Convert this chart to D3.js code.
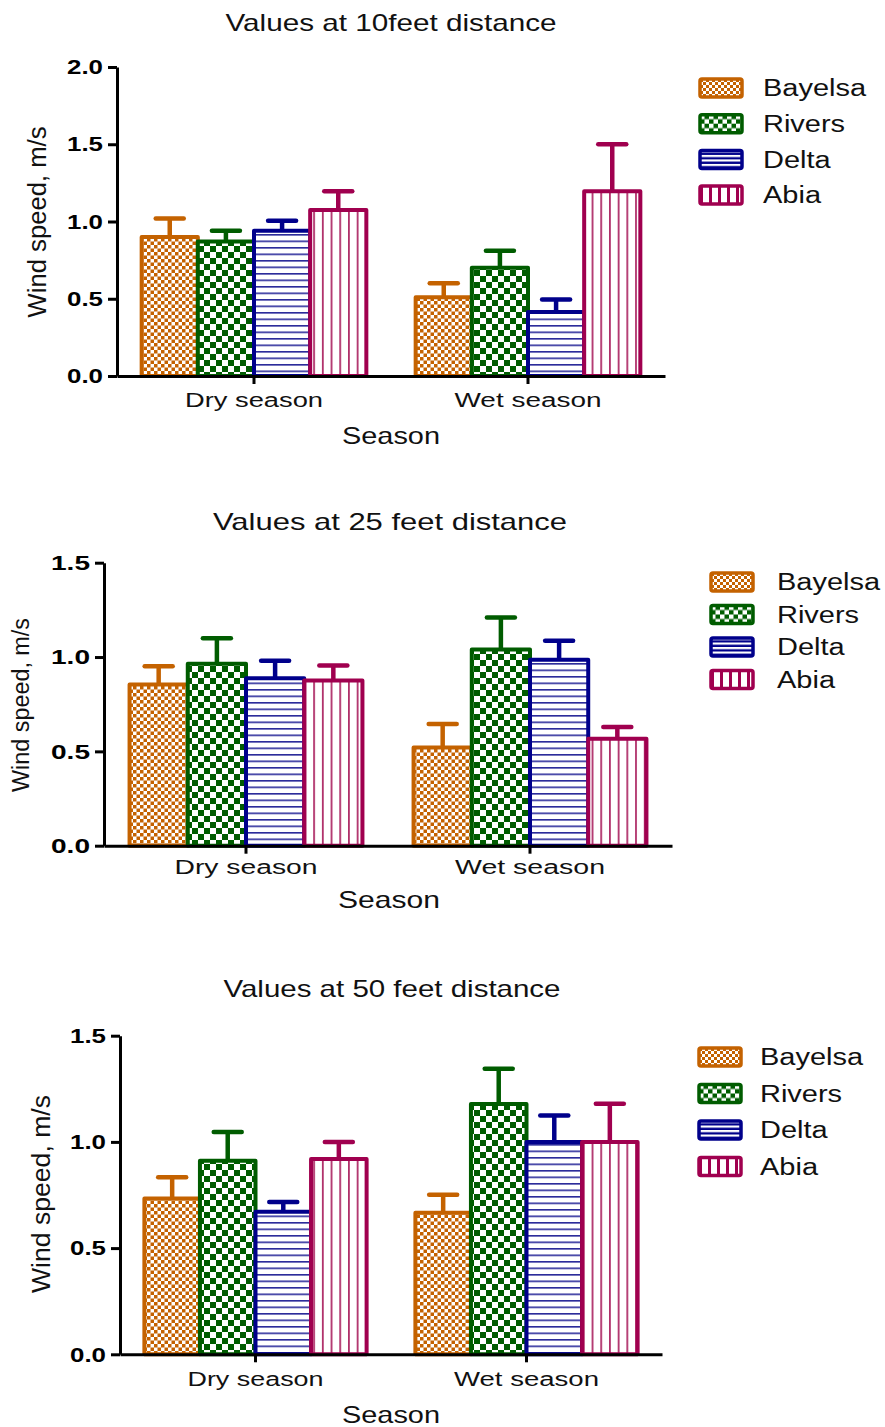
<!DOCTYPE html>
<html><head><meta charset="utf-8">
<script src="https://cdn.jsdelivr.net/npm/d3@7"></script>
<style>
html,body{margin:0;padding:0;background:#fff;}
svg{display:block;font-family:"Liberation Sans",Arial,Helvetica,sans-serif;}
</style></head><body>
<svg id="chart" width="885" height="1427"></svg>
<script>
// ---------------- DATA ----------------
const categories = ["Dry season", "Wet season"];
const seriesNames = ["Bayelsa", "Rivers", "Delta", "Abia"];
const panelTitles = ["Values at 10feet distance", "Values at 25 feet distance", "Values at 50 feet distance"];
const xAxisTitle = "Season";
const yAxisTitle = "Wind speed, m/s";
const ticks10 = [0, 0.5, 1.0, 1.5, 2.0];
const ticks25 = [0, 0.5, 1.0, 1.5];
const ticks50 = [0, 0.5, 1.0, 1.5];
// rows: categories (Dry, Wet); columns: series (Bayelsa, Rivers, Delta, Abia)
const means10 = [[0.90, 0.87, 0.94, 1.075], [0.51, 0.70, 0.415, 1.195]];
const errs10  = [[0.12, 0.07, 0.065, 0.12], [0.09, 0.11, 0.08, 0.305]];
const means25 = [[0.855, 0.965, 0.887, 0.875], [0.52, 1.04, 0.986, 0.567]];
const errs25  = [[0.096, 0.135, 0.093, 0.08], [0.125, 0.17, 0.10, 0.062]];
const means50 = [[0.734, 0.911, 0.671, 0.92], [0.667, 1.178, 1.0, 1.0]];
const errs50  = [[0.10, 0.136, 0.046, 0.08], [0.084, 0.166, 0.124, 0.18]];

// ---------------- STYLE / LAYOUT ----------------
const colors = ["#C46200", "#005C00", "#00008B", "#A0004F"];
const panels = [
  {means: means10, errs: errs10, ticks: ticks10, title: panelTitles[0],
   left: 117, right: 665, top: 67, bottom: 376,
   titleX: 391, titleY: 31, titleW: 331,
   catY: 407, catW: [138, 147], seasonX: 391, seasonY: 444, seasonW: 98,
   yLabX: 46, yLabY: 222, yLabW: 191, yLabFont: 25,
   tickW: 36, legX: 700, legY: 88, legDy: 35.7, legTextX: 763},
  {means: means25, errs: errs25, ticks: ticks25, title: panelTitles[1],
   left: 104, right: 672, top: 562.7, bottom: 845.7,
   titleX: 390, titleY: 530, titleW: 354,
   catY: 874, catW: [143, 150], seasonX: 389, seasonY: 908, seasonW: 102,
   yLabX: 29, yLabY: 705, yLabW: 174, yLabFont: 23.5,
   tickW: 39, legX: 711, legY: 582, legDy: 32.5, legTextX: 777},
  {means: means50, errs: errs50, ticks: ticks50, title: panelTitles[2],
   left: 120, right: 662, top: 1035.7, bottom: 1354.3,
   titleX: 392, titleY: 997, titleW: 337,
   catY: 1386, catW: [136, 145], seasonX: 391, seasonY: 1423, seasonW: 98,
   yLabX: 50, yLabY: 1194, yLabW: 198, yLabFont: 26,
   tickW: 36, legX: 699, legY: 1057, legDy: 36.5, legTextX: 760}
];

const svg = d3.select("#chart");
const defs = svg.append("defs");

function checker(id, size, fg, bg) {
  const p = defs.append("pattern").attr("id", id).attr("patternUnits", "userSpaceOnUse")
    .attr("width", size * 2).attr("height", size * 2);
  p.append("rect").attr("width", size * 2).attr("height", size * 2).attr("fill", bg);
  p.append("rect").attr("width", size).attr("height", size).attr("fill", fg);
  p.append("rect").attr("x", size).attr("y", size).attr("width", size).attr("height", size).attr("fill", fg);
}
function hlines(id, step, thick, fg, bg) {
  const p = defs.append("pattern").attr("id", id).attr("patternUnits", "userSpaceOnUse")
    .attr("width", 10).attr("height", step);
  p.append("rect").attr("width", 10).attr("height", step).attr("fill", bg);
  p.append("rect").attr("width", 10).attr("height", thick).attr("fill", fg);
}
function vlines(id, step, thick, fg, bg) {
  const p = defs.append("pattern").attr("id", id).attr("patternUnits", "userSpaceOnUse")
    .attr("width", step).attr("height", 10);
  p.append("rect").attr("width", step).attr("height", 10).attr("fill", bg);
  p.append("rect").attr("width", thick).attr("height", 10).attr("fill", fg);
}
// bar fills
checker("bar0", 3.5, colors[0], "#fff");
checker("bar1", 6, colors[1], "#fff");
hlines("bar2", 6.5, 1.6, "#2a2a9a", "#fff");
vlines("bar3", 8.7, 1.8, "#b0306a", "#fff");
// legend fills
checker("leg0", 3, "#fff", colors[0]);
checker("leg1", 4.5, "#fff", colors[1]);
hlines("leg2", 4.5, 2.2, "#fff", colors[2]);
vlines("leg3", 9, 3, colors[3], "#fff");

function fit(sel, w) {
  sel.attr("textLength", w).attr("lengthAdjust", "spacingAndGlyphs");
}

panels.forEach((P, pi) => {
  const g = svg.append("g");
  const yMax = d3.max(P.ticks);
  const y = d3.scaleLinear().domain([0, yMax]).range([P.bottom, P.top]);
  const x0 = d3.scaleBand().domain(categories).range([P.left, P.right])
    .paddingInner(0.18).paddingOuter(0.09);
  const x1 = d3.scaleBand().domain(seriesNames).range([0, x0.bandwidth()]).padding(0);

  // title
  g.append("text").attr("x", P.titleX).attr("y", P.titleY).attr("text-anchor", "middle")
    .attr("font-size", 24).attr("fill", "#111").text(P.title).call(fit, P.titleW);

  const cells = [];
  categories.forEach((c, ci) => seriesNames.forEach((s, si) =>
    cells.push({c, s, si, v: P.means[ci][si], e: P.errs[ci][si]})));

  // error bars (upper only)
  const eg = g.append("g");
  eg.selectAll("line.stem").data(cells).join("line").attr("class", "stem")
    .attr("x1", d => x0(d.c) + x1(d.s) + x1.bandwidth() / 2)
    .attr("x2", d => x0(d.c) + x1(d.s) + x1.bandwidth() / 2)
    .attr("y1", d => y(d.v)).attr("y2", d => y(d.v + d.e))
    .attr("stroke", d => colors[d.si]).attr("stroke-width", 4.5);
  eg.selectAll("line.cap").data(cells).join("line").attr("class", "cap")
    .attr("x1", d => x0(d.c) + x1(d.s) + x1.bandwidth() / 2 - 14)
    .attr("x2", d => x0(d.c) + x1(d.s) + x1.bandwidth() / 2 + 14)
    .attr("y1", d => y(d.v + d.e)).attr("y2", d => y(d.v + d.e))
    .attr("stroke", d => colors[d.si]).attr("stroke-width", 4.5).attr("stroke-linecap", "round");

  // bars
  g.append("g").selectAll("rect").data(cells).join("rect")
    .attr("x", d => x0(d.c) + x1(d.s))
    .attr("width", x1.bandwidth())
    .attr("y", d => y(d.v))
    .attr("height", d => y(0) - y(d.v))
    .attr("fill", d => `url(#bar${d.si})`)
    .attr("stroke", d => colors[d.si]).attr("stroke-width", 4)
    .attr("stroke-linejoin", "round");

  // y axis
  const ya = g.append("g").attr("transform", `translate(${P.left},0)`)
    .call(d3.axisLeft(y).tickValues(P.ticks).tickFormat(d3.format(".1f")).tickSize(9).tickSizeOuter(0).tickPadding(5));
  ya.select(".domain").attr("stroke", "#000").attr("stroke-width", 3);
  ya.selectAll(".tick line").attr("stroke", "#000").attr("stroke-width", 3);
  ya.selectAll(".tick text").attr("font-size", 21).attr("font-weight", "bold").attr("fill", "#000")
    .attr("font-family", "Liberation Sans, Arial, sans-serif").call(fit, P.tickW);

  // x axis
  const xa = g.append("g").attr("transform", `translate(0,${P.bottom})`)
    .call(d3.axisBottom(x0).tickSize(8).tickSizeOuter(0).tickPadding(10));
  xa.select(".domain").attr("stroke", "#000").attr("stroke-width", 3);
  xa.selectAll(".tick line").attr("stroke", "#000").attr("stroke-width", 3);
  xa.selectAll(".tick text").remove();
  g.append("g").selectAll("text").data(categories).join("text")
    .attr("x", d => x0(d) + x0.bandwidth() / 2).attr("y", P.catY)
    .attr("text-anchor", "middle").attr("font-size", 20).attr("fill", "#111")
    .text(d => d).each(function(d, i) { d3.select(this).call(fit, P.catW[i]); });

  // axis titles
  g.append("text").attr("x", P.seasonX).attr("y", P.seasonY).attr("text-anchor", "middle")
    .attr("font-size", 24).attr("fill", "#111").text(xAxisTitle).call(fit, P.seasonW);
  g.append("text").attr("transform", `translate(${P.yLabX},${P.yLabY}) rotate(-90)`)
    .attr("text-anchor", "middle").attr("font-size", P.yLabFont).attr("fill", "#111")
    .text(yAxisTitle).call(fit, P.yLabW);

  // legend
  const lg = g.append("g").attr("transform", `translate(${P.legX},${P.legY})`);
  const items = lg.selectAll("g").data(seriesNames).join("g")
    .attr("transform", (d, i) => `translate(0,${i * P.legDy})`);
  items.append("rect").attr("x", 0).attr("y", -9).attr("width", 42).attr("height", 18).attr("rx", 2)
    .attr("fill", (d, i) => `url(#leg${i})`).attr("stroke", (d, i) => colors[i]).attr("stroke-width", 3.5);
  items.append("text").attr("x", P.legTextX - P.legX).attr("dy", "0.36em")
    .attr("font-size", 23).attr("fill", "#111").text(d => d)
    .each(function() { const t = d3.select(this); t.call(fit, this.getComputedTextLength() * 1.26); });
});
</script>
</body></html>
